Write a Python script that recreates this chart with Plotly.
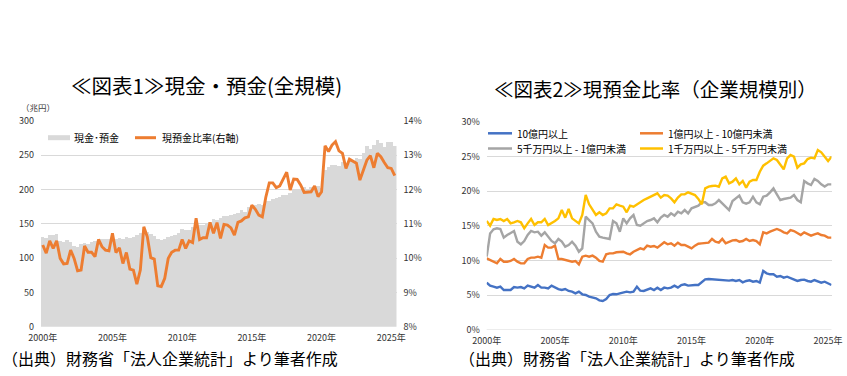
import plotly.graph_objects as go

W, H = 847, 376

# ---------------- data ----------------
quarters = [f"{y}Q{q}" for y in range(2000, 2026) for q in range(1, 5)][:102]  # 2000Q1 .. 2025Q2
year_ticks = ["2000Q1", "2005Q1", "2010Q1", "2015Q1", "2020Q1", "2025Q1"]
year_labels = ["2000年", "2005年", "2010年", "2015年", "2020年", "2025年"]

# Chart 1 : 現金・預金 (兆円) and 現預金比率 (%) – all sizes
cash_deposits = [131, 129.6, 134.5, 133.5, 136, 124.7, 123.8, 126, 123.8, 118,
                 116.5, 121.4, 122.3, 121.4, 123.8, 124.7, 127.7, 127.7, 128.6, 127.7,
                 130.6, 128.6, 129.6, 127.7, 130.6, 129.6, 131.5, 133.5, 137.4, 140.8,
                 138.3, 135.4, 132.5, 127.7, 126.7, 128.6, 130.6, 132.5, 134.5, 137.4,
                 143.2, 141.2, 140.8, 145.1, 144.2, 148, 148, 151.9, 152.9, 156.8,
                 155.3, 158.7, 161.6, 161.2, 163.6, 164.5, 166.5, 169.9, 167.5, 174.7,
                 174.3, 178.1, 179.6, 178.1, 183, 183, 185.9, 187.8, 189.3, 192.7,
                 192.7, 195.6, 199, 200.5, 201.4, 203.9, 201.4, 203.4, 203.9, 205.3,
                 202.4, 228, 233, 235.4, 236.4, 234.4, 240.3, 237.8, 241.2, 240.3,
                 246.1, 245.1, 253.9, 263.6, 259.7, 265.5, 272.8, 268.4, 262.1, 269.4,
                 269.4, 263.6]
cash_ratio = [10.38, 10.14, 10.50, 10.28, 10.50, 9.99, 9.83, 9.84, 10.23, 9.99,
              9.63, 9.65, 10.35, 10.17, 10.17, 10.04, 10.54, 10.33, 10.23, 10.21,
              10.72, 10.16, 10.30, 9.84, 10.16, 9.68, 9.65, 9.24, 9.65, 10.91,
              10.62, 10.01, 9.97, 9.19, 9.17, 9.41, 9.99, 10.17, 10.23, 10.23,
              10.54, 10.28, 10.50, 10.45, 11.16, 10.54, 10.59, 10.59, 11.04, 10.72,
              11.03, 10.57, 10.98, 10.96, 10.88, 10.67, 11.04, 11.08, 11.17, 11.20,
              11.54, 11.42, 11.25, 11.20, 11.77, 12.19, 12.19, 12.05, 12.10, 12.29,
              12.50, 11.98, 12.30, 12.29, 12.13, 11.91, 11.93, 11.93, 12.10, 11.79,
              11.93, 13.27, 13.10, 13.29, 13.39, 13.12, 13.05, 12.61, 12.88, 12.81,
              12.76, 12.27, 12.56, 12.85, 12.98, 12.63, 13.05, 12.95, 12.78, 12.63,
              12.61, 12.40]

# Chart 2 : 現預金比率 by company size (%)
ratio_10oku = [6.82, 6.39, 6.24, 6.10, 6.24, 5.76, 5.76, 5.76, 6.19, 6.10,
               6.19, 6.00, 6.39, 6.19, 6.10, 6.48, 6.10, 6.10, 6.00, 6.39,
               6.10, 5.90, 5.76, 5.90, 5.62, 5.52, 5.28, 5.52, 5.14, 5.04,
               4.80, 4.66, 4.56, 4.27, 4.18, 4.46, 5.04, 5.18, 5.14, 5.28,
               5.38, 5.52, 5.42, 5.52, 6.24, 5.66, 5.62, 5.76, 6.00, 5.76,
               6.10, 5.76, 6.10, 6.00, 6.10, 6.39, 6.10, 6.48, 6.58, 6.39,
               6.48, 6.48, 6.48, 6.90, 7.30, 7.35, 7.30, 7.25, 7.20, 7.25,
               7.20, 7.11, 7.20, 7.06, 7.20, 6.87, 7.06, 7.15, 6.96, 7.06,
               6.82, 8.50, 8.16, 8.02, 8.02, 7.68, 7.78, 7.54, 7.68, 7.44,
               7.30, 7.06, 7.20, 7.25, 7.06, 6.96, 7.20, 6.96, 6.82, 6.96,
               6.67, 6.48]
ratio_1oku = [10.32, 10.08, 9.84, 9.60, 10.23, 9.84, 9.84, 9.94, 10.23, 9.84,
              9.60, 9.60, 10.23, 10.42, 10.42, 10.56, 10.42, 12.24, 11.86, 11.86,
              12.15, 10.23, 10.23, 10.08, 9.94, 9.84, 9.94, 9.46, 10.56, 10.71,
              10.56, 10.71, 10.42, 9.94, 9.84, 10.90, 11.04, 11.04, 11.19, 11.19,
              11.28, 11.04, 10.90, 11.28, 11.52, 11.76, 11.62, 12.15, 12.00, 12.10,
              11.86, 12.24, 12.63, 12.34, 12.48, 12.15, 12.58, 12.24, 12.24, 12.00,
              11.76, 12.15, 12.43, 12.48, 12.48, 12.58, 13.11, 12.72, 12.58, 13.11,
              12.48, 12.72, 12.91, 12.96, 12.72, 12.82, 13.11, 12.82, 12.96, 12.80,
              12.34, 14.07, 13.92, 14.16, 14.36, 14.55, 14.36, 14.07, 13.92, 14.40,
              14.26, 13.92, 13.68, 14.07, 13.78, 13.59, 13.78, 13.92, 13.68, 13.59,
              13.30, 13.30]
ratio_5000man = [10.56, 13.90, 14.50, 14.64, 14.55, 13.30, 13.68, 13.92, 14.26, 12.72,
                 12.34, 12.82, 13.68, 14.26, 14.07, 14.16, 13.59, 14.07, 13.44, 12.82,
                 12.48, 13.11, 12.72, 12.00, 12.24, 12.72, 12.15, 11.28, 11.76, 16.32,
                 15.84, 15.36, 14.16, 13.44, 13.30, 13.20, 13.11, 15.70, 15.36, 14.16,
                 16.08, 15.36, 16.08, 16.56, 15.12, 15.03, 15.36, 15.70, 15.84, 16.08,
                 15.51, 16.18, 16.56, 16.32, 16.80, 16.47, 17.04, 16.80, 17.28, 16.80,
                 17.52, 17.76, 17.91, 18.39, 18.39, 18.00, 18.00, 18.24, 18.72, 18.24,
                 17.76, 17.28, 18.58, 18.96, 19.35, 18.39, 18.20, 18.39, 19.20, 18.39,
                 18.10, 19.20, 19.35, 19.83, 20.40, 19.54, 18.72, 18.87, 18.96, 19.06,
                 19.44, 18.72, 18.39, 21.46, 21.12, 20.88, 21.75, 21.46, 20.98, 20.66,
                 20.98, 20.98]
ratio_1000man = [15.70, 15.03, 15.99, 15.84, 15.99, 15.70, 15.99, 15.36, 15.51, 15.70,
                 15.51, 14.64, 15.36, 15.99, 15.12, 15.51, 15.51, 15.99, 15.12, 15.36,
                 15.70, 16.08, 17.28, 16.18, 17.43, 16.08, 15.70, 15.36, 16.56, 19.44,
                 18.10, 17.28, 16.56, 16.95, 16.56, 16.80, 17.52, 17.52, 18.10, 17.91,
                 17.76, 16.95, 17.91, 17.76, 18.10, 18.39, 18.72, 18.96, 19.20, 19.44,
                 19.68, 19.06, 19.44, 19.35, 18.96, 18.39, 19.06, 19.54, 19.54, 19.83,
                 19.68, 19.44, 18.87, 18.10, 20.40, 20.64, 20.74, 20.79, 20.64, 21.84,
                 22.08, 21.12, 21.36, 21.84, 20.98, 21.46, 20.50, 21.36, 21.60, 21.60,
                 22.80, 23.67, 24.00, 24.34, 24.72, 24.48, 23.76, 23.14, 24.72, 25.20,
                 24.96, 23.38, 23.86, 24.00, 24.62, 24.82, 24.72, 25.92, 25.59, 24.96,
                 24.34, 24.96]

series1_names = ["現金･預金", "現預金比率(右軸)"]
series2_names = ["10億円以上", "1億円以上 - 10億円未満", "5千万円以上 - 1億円未満", "1千万円以上 - 5千万円未満"]
series2_data = [ratio_10oku, ratio_1oku, ratio_5000man, ratio_1000man]
series2_colors = ["#4472C4", "#ED7D31", "#A5A5A5", "#FFC000"]

titles = ["≪図表1≫現金・預金(全規模)", "≪図表2≫現預金比率（企業規模別）"]
source_text = "（出典）財務省「法人企業統計」より筆者作成"
unit_text = "（兆円）"

# ---------------- helpers ----------------
def px(x):
    return x / W

def py(y):
    return 1 - y / H

FONT = "Noto Sans CJK JP, Noto Sans, sans-serif"
TICK_FONT = dict(family=FONT, size=9, color="#333333")
GRID = "#D9D9D9"

fig = go.Figure()

# Chart 1
fig.add_trace(go.Bar(x=quarters, y=cash_deposits, name=series1_names[0],
                     marker=dict(color="#D9D9D9", line=dict(width=0)),
                     xaxis="x", yaxis="y", showlegend=False))
fig.add_trace(go.Scatter(x=quarters, y=cash_ratio, name=series1_names[1], mode="lines",
                         line=dict(color="#ED7D31", width=2.9),
                         xaxis="x", yaxis="y2", showlegend=False))

# Chart 2
for name, vals, col in zip(series2_names, series2_data, series2_colors):
    fig.add_trace(go.Scatter(x=quarters, y=vals, name=name, mode="lines",
                             line=dict(color=col, width=2.4),
                             xaxis="x2", yaxis="y3", showlegend=False))

c1_left, c1_right, c1_top, c1_bot = 41, 396.5, 120.7, 326.7
c2_left, c2_right, c2_top, c2_bot = 486.7, 831.5, 121.7, 330

common = dict(automargin=False, fixedrange=True, zeroline=False, showline=False, ticks="",
              tickfont=TICK_FONT)

fig.update_layout(
    width=W, height=H,
    margin=dict(l=0, r=0, t=0, b=0, autoexpand=False),
    paper_bgcolor="white", plot_bgcolor="white",
    bargap=0,
    font=dict(family=FONT),
    xaxis=dict(domain=[px(c1_left), px(c1_right)], anchor="y", type="category",
               range=[-0.5, len(quarters) - 0.5], tickvals=year_ticks, ticktext=year_labels,
               showgrid=False, ticklabelstandoff=4, **common),
    yaxis=dict(domain=[py(c1_bot), py(c1_top)], anchor="x", range=[0, 300], dtick=50,
               showgrid=True, gridcolor=GRID, gridwidth=1, ticklabelstandoff=6, **common),
    yaxis2=dict(overlaying="y", anchor="x", side="right", range=[8, 14], dtick=1,
                ticksuffix="%", showgrid=False, ticklabelstandoff=6, **common),
    xaxis2=dict(domain=[px(c2_left), px(c2_right)], anchor="y3", type="category",
                range=[0, len(quarters) - 1], tickvals=year_ticks, ticktext=year_labels,
                showgrid=False, ticklabelstandoff=4, **common),
    yaxis3=dict(domain=[py(c2_bot), py(c2_top)], anchor="x2", range=[0, 30], dtick=5,
                ticksuffix="%", showgrid=True, gridcolor=GRID, gridwidth=1,
                ticklabelstandoff=6, **common),
)

annotations = []
shapes = []

# titles
annotations.append(dict(text=titles[0], x=px(206), y=py(85), xref="paper", yref="paper",
                        xanchor="center", yanchor="middle", showarrow=False,
                        font=dict(family=FONT, size=20.5, color="#000000")))
annotations.append(dict(text=titles[1], x=px(655), y=py(88), xref="paper", yref="paper",
                        xanchor="center", yanchor="middle", showarrow=False,
                        font=dict(family=FONT, size=19.5, color="#000000")))
# sources
for x0 in (0, 457):
    annotations.append(dict(text=source_text, x=px(x0), y=py(358), xref="paper", yref="paper",
                            xanchor="left", yanchor="middle", showarrow=False,
                            font=dict(family=FONT, size=16, color="#000000")))
# unit
annotations.append(dict(text=unit_text, x=px(38), y=py(107.5), xref="paper", yref="paper",
                        xanchor="center", yanchor="middle", showarrow=False,
                        font=dict(family=FONT, size=8.5, color="#404040")))
# zero line for chart 2
shapes.append(dict(type="line", xref="x2 domain", yref="y3", x0=0, x1=1, y0=0, y1=0,
                   line=dict(color=GRID, width=1), layer="below"))

# legend chart 1
leg1 = [(48, 70, 72, "#D9D9D9", 5), (135, 156, 160, "#ED7D31", 3)]
for (x0, x1, tx, col, wdt), name in zip(leg1, series1_names):
    shapes.append(dict(type="line", xref="paper", yref="paper", x0=px(x0), x1=px(x1),
                       y0=py(137.7), y1=py(137.7), line=dict(color=col, width=wdt)))
    annotations.append(dict(text=name, x=px(tx), y=py(137.7), xref="paper", yref="paper",
                            xanchor="left", yanchor="middle", showarrow=False,
                            font=dict(family=FONT, size=10, color="#000000")))

# legend chart 2
leg2 = [(488, 512, 515, 133.3), (640, 663, 666, 133.3), (488, 512, 515, 148.5), (640, 663, 666, 148.5)]
for (x0, x1, tx, yy), name, col in zip(leg2, series2_names, series2_colors):
    shapes.append(dict(type="line", xref="paper", yref="paper", x0=px(x0), x1=px(x1),
                       y0=py(yy), y1=py(yy), line=dict(color=col, width=2.5)))
    annotations.append(dict(text=name, x=px(tx), y=py(yy), xref="paper", yref="paper",
                            xanchor="left", yanchor="middle", showarrow=False,
                            font=dict(family=FONT, size=10, color="#000000")))

fig.update_layout(annotations=annotations, shapes=shapes)

fig.write_html("out.html", config={"displayModeBar": False},
               post_script="document.body.style.margin='0';document.body.style.padding='0';")
